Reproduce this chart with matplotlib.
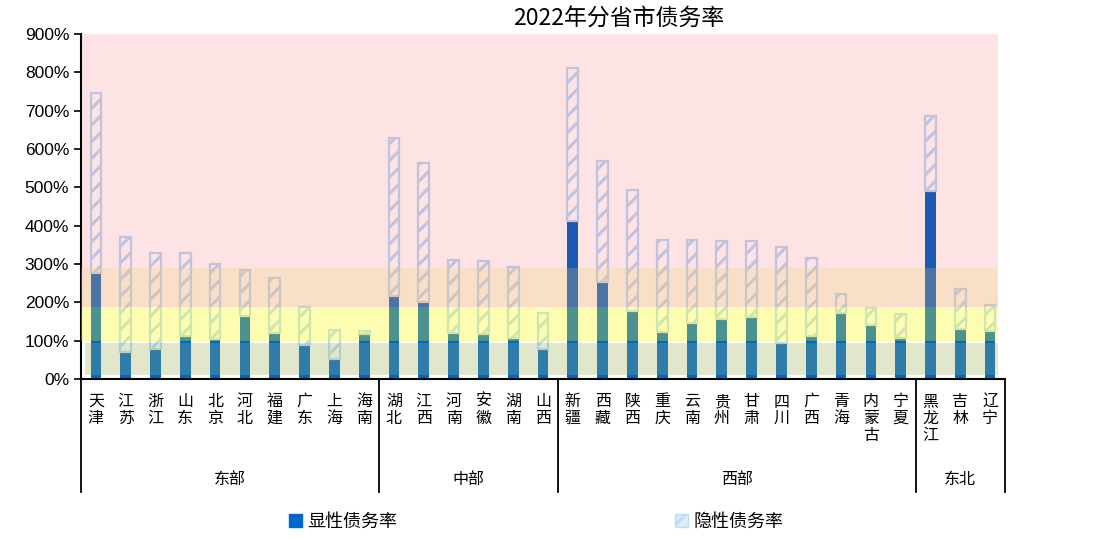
import matplotlib.pyplot as plt
import matplotlib.patches as mpatches

plt.rcParams['font.family'] = ['Noto Sans CJK SC', 'DejaVu Sans']
plt.rcParams['hatch.linewidth'] = 2.2

# data (in units of 100%)
provinces = ['天津', '江苏', '浙江', '山东', '北京', '河北', '福建', '广东', '上海', '海南',
             '湖北', '江西', '河南', '安徽', '湖南', '山西',
             '新疆', '西藏', '陕西', '重庆', '云南', '贵州', '甘肃', '四川', '广西', '青海', '内蒙古', '宁夏',
             '黑龙江', '吉林', '辽宁']
explicit = [2.76, 0.70, 0.79, 1.13, 1.05, 1.65, 1.20, 0.90, 0.52, 1.18,
            2.17, 2.00, 1.20, 1.18, 1.07, 0.77,
            4.11, 2.52, 1.77, 1.22, 1.47, 1.57, 1.62, 0.95, 1.13, 1.71, 1.40, 1.07,
            4.91, 1.30, 1.26]
total = [7.46, 3.70, 3.29, 3.29, 3.01, 2.85, 2.63, 1.89, 1.28, 1.25,
         6.28, 5.63, 3.11, 3.09, 2.92, 1.73,
         8.11, 5.70, 4.94, 3.63, 3.63, 3.59, 3.59, 3.45, 3.16, 2.21, 1.85, 1.70,
         6.85, 2.34, 1.94]
implicit = [t - e for t, e in zip(total, explicit)]
regions = ['东部', '中部', '西部', '东北']
region_sizes = [10, 6, 12, 3]

# risk bands: (low, high, colour, alpha)
bands = [(2.9, 9.0, '#F00000', 0.11),
         (1.88, 2.9, '#EC9650', 0.31),
         (1.0, 1.88, '#FAFA00', 0.30),
         (0.1, 0.95, '#9AB254', 0.30)]

fig = plt.figure(figsize=(11, 5.38), dpi=100)
ax = fig.add_axes([81 / 1100, 159 / 538, 924 / 1100, 345 / 538])

x = list(range(len(provinces)))
blue = '#0066CC'
hatch_col = '#BCDCFA'
ax.bar(x, explicit, width=0.36, color=blue, zorder=2)
ax.bar(x, implicit, bottom=explicit, width=0.36, facecolor='none',
       edgecolor=hatch_col, hatch='//', linewidth=1.6, zorder=2)

for lo, hi, c, a in bands:
    left = -0.37 if lo < 0.5 else -0.5
    ax.fill_between([left, 30.27], lo, hi, color=c, alpha=a, lw=0, zorder=3)

ax.set_xlim(-0.5, len(provinces) - 0.5)
ax.set_ylim(0, 9)
ax.set_yticks(range(10))
ax.set_yticklabels([f'{v * 100}%' for v in range(10)], family='Liberation Sans', fontsize=12.5)
ax.set_xticks([])
ax.tick_params(axis='y', length=5, width=1.2, color='black')
for s in ['top', 'right']:
    ax.spines[s].set_visible(False)
ax.spines['left'].set_linewidth(1.5)
ax.spines['bottom'].set_linewidth(1.5)

# category labels, vertical characters
tr = ax.get_xaxis_transform()
for i, name in enumerate(provinces):
    ax.text(i, -0.04, '\n'.join(name), transform=tr, ha='center', va='top',
            fontsize=11.5, linespacing=1.0)

# region brackets
start = -0.5
for reg, n in zip(regions, region_sizes):
    end = start + n
    ax.text((start + end) / 2, -0.29, reg, transform=tr, ha='center', va='center', fontsize=11.5)
    start = end
edges = [-0.5]
for n in region_sizes:
    edges.append(edges[-1] + n)
for e in edges:
    ax.plot([e, e], [0, -0.328], transform=tr, color='black', lw=1.3, clip_on=False)

fig.text(619 / 1100, 1 - 19 / 538, '2022年分省市债务率', ha='center', va='center', fontsize=16.5)

h1 = mpatches.Patch(facecolor=blue, edgecolor=blue)
h2 = mpatches.Patch(facecolor='#DCEBFA', edgecolor=hatch_col, hatch='//')
fig.legend([h1, h2], ['显性债务率', '隐性债务率'], loc='center', ncol=2,
           bbox_to_anchor=(536 / 1100, 1 - 522 / 538), frameon=False, fontsize=13,
           handlelength=0.7, handleheight=0.7, handletextpad=0.3, columnspacing=15.4)

fig.savefig('out.png', dpi=100)
